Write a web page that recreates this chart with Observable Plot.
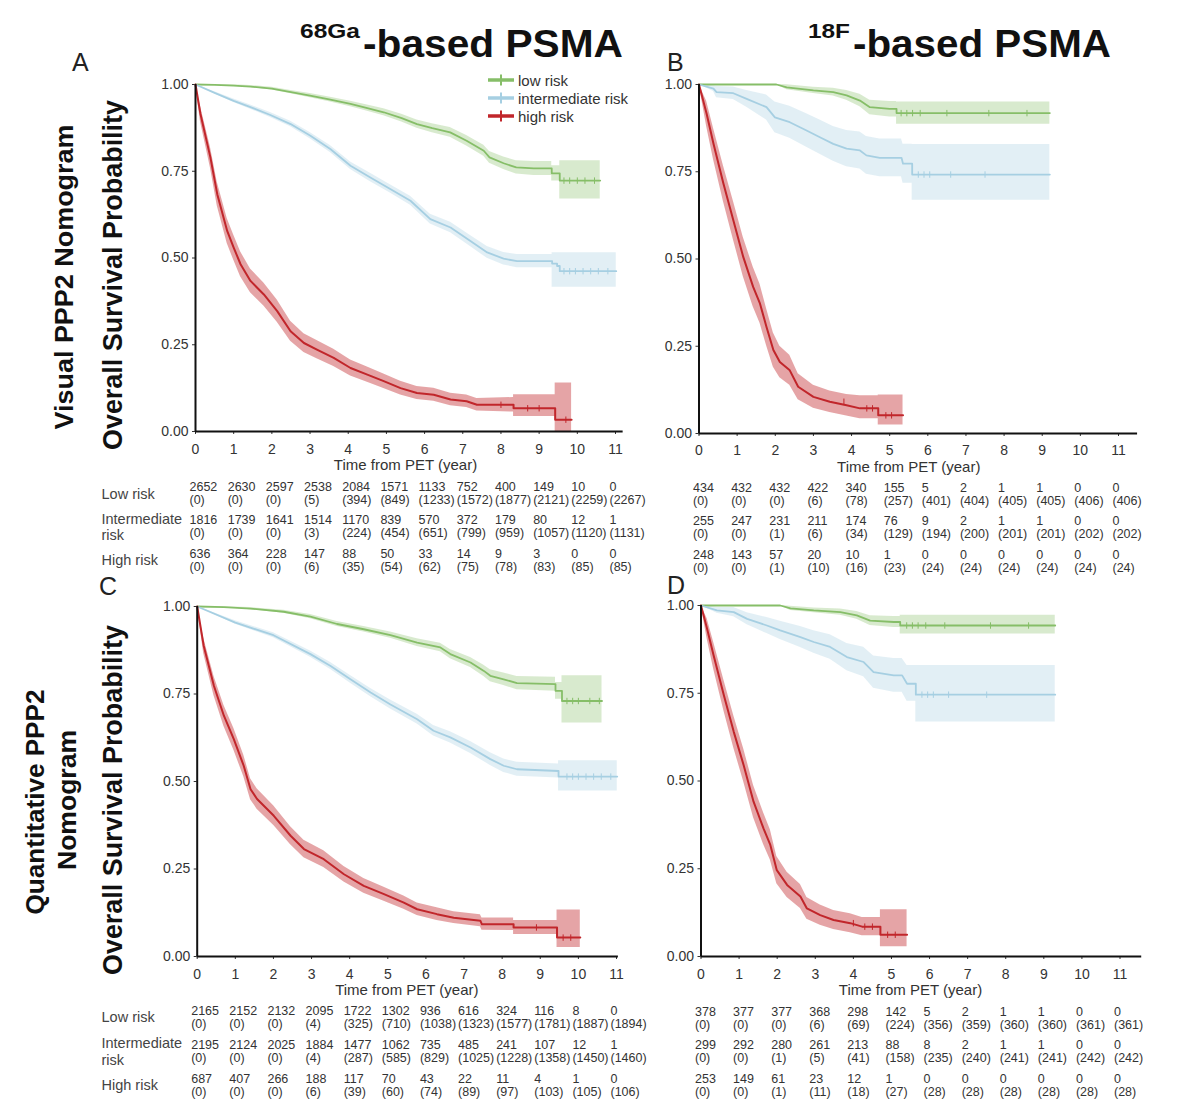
<!DOCTYPE html>
<html><head><meta charset="utf-8">
<script src="https://cdn.jsdelivr.net/npm/d3@7"></script>
<script src="https://cdn.jsdelivr.net/npm/@observablehq/plot@0.6"></script>
<style>
body{margin:0;background:#fff;}
#page{position:relative;width:1200px;height:1112px;overflow:hidden;font-family:"Liberation Sans",Arial,sans-serif;background:#fff;}
#page > svg{position:absolute;overflow:visible;}
</style></head><body><div id="page"></div>
<script>
// ---------- DATA ----------
const groups = ["low risk", "intermediate risk", "high risk"];
const lineColors = ["#86be68", "#a6cfe2", "#c1262b"];
const bandOpacity = [0.32, 0.33, 0.42];
const timePoints = [0, 1, 2, 3, 4, 5, 6, 7, 8, 9, 10, 11];
const riskRows = ["Low risk", "Intermediate\nrisk", "High risk"];

// curves: [time, survival, lower CI, upper CI]
const A_low = [[0,1,1,1],[0.5,0.999,0.998,1],[1,0.997,0.995,0.999],[1.44,0.994,0.991,0.997],[2,0.988,0.984,0.992],[2.5,0.978,0.973,0.983],[3,0.968,0.962,0.974],[3.5,0.957,0.95,0.964],[4.06,0.944,0.936,0.952],[4.5,0.932,0.923,0.941],[4.93,0.92,0.91,0.93],[5.4,0.903,0.892,0.914],[5.8,0.886,0.874,0.898],[6.2,0.874,0.861,0.887],[6.67,0.862,0.848,0.876],[7.1,0.838,0.823,0.853],[7.55,0.809,0.793,0.825],[7.7,0.79,0.773,0.807],[8.07,0.773,0.755,0.791],[8.4,0.761,0.742,0.78],[8.86,0.758,0.738,0.778],[9.33,0.758,0.738,0.778],[9.33,0.744,0.722,0.766],[9.54,0.744,0.722,0.766],[9.54,0.723,0.67,0.78],[10.6,0.723,0.67,0.78]];
const A_int = [[0,1,1,1],[0.5,0.976,0.973,0.979],[1,0.953,0.948,0.958],[1.44,0.935,0.929,0.941],[1.96,0.912,0.905,0.919],[2.49,0.886,0.878,0.894],[3,0.853,0.844,0.862],[3.53,0.814,0.804,0.824],[4.06,0.766,0.755,0.777],[4.58,0.732,0.72,0.744],[5.1,0.699,0.687,0.711],[5.63,0.665,0.652,0.678],[6.15,0.612,0.598,0.626],[6.68,0.588,0.573,0.603],[7.2,0.549,0.533,0.565],[7.64,0.516,0.499,0.533],[8.07,0.498,0.48,0.516],[8.42,0.491,0.472,0.51],[9.34,0.491,0.472,0.51],[9.34,0.484,0.416,0.515],[9.47,0.484,0.416,0.515],[9.47,0.477,0.416,0.515],[9.54,0.477,0.416,0.515],[9.54,0.462,0.416,0.515],[11.02,0.462,0.416,0.515]];
const A_high = [[0,1,1,1],[0.13,0.915,0.893,0.937],[0.39,0.79,0.76,0.82],[0.57,0.684,0.65,0.718],[0.83,0.578,0.542,0.614],[1,0.53,0.494,0.566],[1.18,0.482,0.446,0.518],[1.44,0.434,0.4,0.468],[1.79,0.395,0.362,0.428],[2.14,0.347,0.315,0.379],[2.49,0.289,0.26,0.318],[2.84,0.255,0.228,0.282],[3.18,0.236,0.21,0.262],[3.62,0.212,0.187,0.237],[4.06,0.183,0.16,0.206],[4.5,0.164,0.142,0.186],[4.93,0.145,0.124,0.166],[5.37,0.125,0.105,0.145],[5.8,0.111,0.092,0.13],[6.24,0.106,0.087,0.125],[6.68,0.092,0.074,0.11],[7.1,0.087,0.069,0.105],[7.37,0.077,0.059,0.095],[8.33,0.077,0.056,0.098],[8.33,0.067,0.043,0.106],[9.42,0.067,0.043,0.106],[9.42,0.034,0,0.14],[9.85,0.034,0,0.14]];

const B_low = [[0,1,1,1],[2.03,1,1,1],[2.3,0.992,0.985,0.999],[3,0.983,0.974,0.992],[3.52,0.978,0.967,0.989],[3.87,0.969,0.955,0.983],[4.22,0.954,0.936,0.972],[4.48,0.935,0.913,0.955],[5,0.93,0.907,0.951],[5.18,0.93,0.907,0.951],[5.18,0.918,0.886,0.95],[9.2,0.918,0.886,0.95]];
const B_int = [[0,1,1,1],[0.38,0.988,0.98,0.996],[0.46,0.978,0.962,0.994],[0.9,0.975,0.957,0.993],[1.25,0.959,0.935,0.983],[1.77,0.935,0.898,0.97],[1.99,0.906,0.862,0.95],[2.38,0.892,0.846,0.938],[2.82,0.868,0.82,0.916],[3.17,0.849,0.8,0.898],[3.52,0.83,0.78,0.88],[3.87,0.816,0.764,0.868],[4.22,0.811,0.758,0.864],[4.39,0.797,0.743,0.851],[4.74,0.79,0.736,0.844],[5.31,0.79,0.736,0.844],[5.35,0.773,0.717,0.829],[5.59,0.773,0.717,0.829],[5.59,0.742,0.668,0.828],[9.2,0.742,0.668,0.828]];
const B_high = [[0,1,1,1],[0.2,0.916,0.88,0.952],[0.38,0.83,0.785,0.875],[0.64,0.716,0.665,0.767],[0.9,0.611,0.556,0.666],[1.16,0.506,0.45,0.562],[1.42,0.42,0.363,0.477],[1.6,0.372,0.316,0.428],[1.77,0.305,0.252,0.358],[1.95,0.239,0.19,0.288],[2.12,0.205,0.16,0.25],[2.38,0.181,0.138,0.224],[2.6,0.134,0.097,0.171],[3,0.105,0.072,0.138],[3.43,0.091,0.06,0.122],[3.87,0.081,0.05,0.112],[4.22,0.072,0.042,0.108],[4.7,0.072,0.042,0.108],[4.7,0.052,0.024,0.11],[5.35,0.052,0.024,0.11]];

const C_low = [[0,1,1,1],[0.7,0.998,0.997,0.999],[1.4,0.994,0.991,0.997],[2.27,0.985,0.981,0.989],[2.97,0.971,0.965,0.977],[3.67,0.95,0.943,0.957],[4.37,0.935,0.927,0.943],[5.07,0.918,0.909,0.927],[5.77,0.897,0.886,0.908],[6.38,0.883,0.871,0.895],[6.64,0.864,0.851,0.877],[7.17,0.84,0.826,0.854],[7.52,0.816,0.8,0.832],[7.69,0.802,0.785,0.819],[8.04,0.792,0.774,0.81],[8.39,0.781,0.762,0.8],[9.4,0.778,0.758,0.798],[9.4,0.759,0.735,0.783],[9.57,0.759,0.735,0.783],[9.57,0.73,0.667,0.802],[10.62,0.73,0.667,0.802]];
const C_int = [[0,1,1,1],[1,0.954,0.949,0.959],[2,0.918,0.911,0.925],[2.97,0.864,0.855,0.873],[3.5,0.83,0.82,0.84],[4.02,0.792,0.781,0.803],[4.55,0.754,0.742,0.766],[5.07,0.72,0.707,0.733],[5.77,0.678,0.664,0.692],[6.2,0.645,0.63,0.66],[6.64,0.626,0.61,0.642],[7.17,0.597,0.58,0.614],[7.69,0.564,0.546,0.582],[8.04,0.545,0.526,0.564],[8.39,0.535,0.515,0.555],[9.48,0.53,0.51,0.55],[9.48,0.514,0.473,0.559],[11.02,0.514,0.473,0.559]];
const C_high = [[0,1,1,1],[0.17,0.888,0.866,0.91],[0.44,0.773,0.745,0.801],[0.7,0.688,0.658,0.718],[0.96,0.621,0.59,0.652],[1.22,0.545,0.514,0.576],[1.4,0.478,0.448,0.508],[1.57,0.45,0.421,0.479],[2.01,0.402,0.374,0.43],[2.45,0.345,0.319,0.371],[2.8,0.307,0.282,0.332],[3.32,0.278,0.254,0.302],[3.85,0.235,0.213,0.257],[4.37,0.202,0.181,0.223],[4.9,0.178,0.158,0.198],[5.42,0.154,0.135,0.173],[5.77,0.135,0.117,0.153],[6.29,0.121,0.103,0.139],[6.73,0.111,0.094,0.128],[7.43,0.102,0.085,0.119],[7.47,0.092,0.075,0.11],[8.3,0.092,0.074,0.11],[8.3,0.083,0.063,0.103],[9.44,0.083,0.063,0.103],[9.44,0.054,0.026,0.133],[10.05,0.054,0.026,0.133]];

const D_low = [[0,1,1,1],[2.08,1,1,1],[2.35,0.992,0.986,0.998],[2.96,0.986,0.979,0.993],[3.66,0.981,0.972,0.99],[4.09,0.972,0.961,0.983],[4.44,0.957,0.943,0.971],[5.06,0.953,0.937,0.969],[5.23,0.953,0.937,0.969],[5.23,0.943,0.919,0.972],[9.3,0.943,0.919,0.972]];
const D_int = [[0,1,1,1],[0.42,0.986,0.978,0.994],[0.86,0.981,0.968,0.994],[1.21,0.962,0.945,0.979],[1.73,0.943,0.92,0.966],[2.08,0.929,0.903,0.955],[2.61,0.91,0.88,0.94],[2.96,0.896,0.864,0.928],[3.39,0.882,0.847,0.917],[3.83,0.853,0.814,0.892],[4.27,0.839,0.797,0.881],[4.53,0.81,0.764,0.856],[5.06,0.801,0.753,0.849],[5.28,0.801,0.753,0.849],[5.41,0.777,0.727,0.829],[5.64,0.777,0.727,0.829],[5.64,0.746,0.668,0.829],[9.3,0.746,0.668,0.829]];
const D_high = [[0,1,1,1],[0.16,0.934,0.905,0.963],[0.33,0.858,0.82,0.896],[0.6,0.744,0.7,0.788],[0.86,0.64,0.594,0.686],[1.12,0.545,0.498,0.592],[1.38,0.441,0.395,0.487],[1.64,0.365,0.32,0.41],[1.82,0.318,0.275,0.361],[1.99,0.246,0.207,0.285],[2.26,0.204,0.168,0.24],[2.61,0.171,0.137,0.205],[2.78,0.137,0.106,0.168],[3.13,0.118,0.089,0.147],[3.48,0.104,0.077,0.131],[3.92,0.095,0.068,0.122],[4.23,0.085,0.059,0.111],[4.71,0.085,0.059,0.111],[4.71,0.062,0.028,0.133],[5.41,0.062,0.028,0.133]];

// censoring tick times
const A_cens = [[9.65,9.8,10.0,10.2,10.45],[9.65,9.8,9.95,10.15,10.35,10.55,10.8],[8.0,8.7,9.0,9.7]];
const B_cens = [[5.3,5.45,5.6,5.8,6.5,7.6,8.6],[5.75,5.9,6.05,6.6,7.5],[3.8,4.4,4.55,4.9,5.05]];
const C_cens = [[9.7,9.85,10.0,10.3,10.55],[9.7,9.85,10.0,10.2,10.4,10.6,10.85],[8.9,9.6,9.8]];
const D_cens = [[5.4,5.55,5.7,5.9,6.4,7.6,8.6],[5.8,5.95,6.1,6.5,7.5],[4.0,4.3,4.5,4.9,5.1]];

// number at risk and (cumulative censored)
const A_lowN = [2652,2630,2597,2538,2084,1571,1133,752,400,149,10,0];
const A_lowC = [0,0,0,5,394,849,1233,1572,1877,2121,2259,2267];
const A_intN = [1816,1739,1641,1514,1170,839,570,372,179,80,12,1];
const A_intC = [0,0,0,3,224,454,651,799,959,1057,1120,1131];
const A_highN = [636,364,228,147,88,50,33,14,9,3,0,0];
const A_highC = [0,0,0,6,35,54,62,75,78,83,85,85];

const B_lowN = [434,432,432,422,340,155,5,2,1,1,0,0];
const B_lowC = [0,0,0,6,78,257,401,404,405,405,406,406];
const B_intN = [255,247,231,211,174,76,9,2,1,1,0,0];
const B_intC = [0,0,1,6,34,129,194,200,201,201,202,202];
const B_highN = [248,143,57,20,10,1,0,0,0,0,0,0];
const B_highC = [0,0,1,10,16,23,24,24,24,24,24,24];

const C_lowN = [2165,2152,2132,2095,1722,1302,936,616,324,116,8,0];
const C_lowC = [0,0,0,4,325,710,1038,1323,1577,1781,1887,1894];
const C_intN = [2195,2124,2025,1884,1477,1062,735,485,241,107,12,1];
const C_intC = [0,0,0,4,287,585,829,1025,1228,1358,1450,1460];
const C_highN = [687,407,266,188,117,70,43,22,11,4,1,0];
const C_highC = [0,0,0,6,39,60,74,89,97,103,105,106];

const D_lowN = [378,377,377,368,298,142,5,2,1,1,0,0];
const D_lowC = [0,0,0,6,69,224,356,359,360,360,361,361];
const D_intN = [299,292,280,261,213,88,8,2,1,1,0,0];
const D_intC = [0,0,1,5,41,158,235,240,241,241,242,242];
const D_highN = [253,149,61,23,12,1,0,0,0,0,0,0];
const D_highC = [0,0,1,11,18,27,28,28,28,28,28,28];

const yTicks = [0, 0.25, 0.5, 0.75, 1];
const xLabel = "Time from PET (year)";

// ---------- DRAWING ----------
const page = document.getElementById("page");
const FONT = '"Liberation Sans", Arial, sans-serif';

const tickSymbol = {
  draw(ctx, size) {
    const r = Math.sqrt(size / Math.PI);
    ctx.moveTo(0, -r); ctx.lineTo(0, r);
  }
};

function stepAt(curve, t) {
  let s = curve[0][1];
  for (const p of curve) if (p[0] <= t) s = p[1];
  return s;
}

function place(el, left, top) {
  el.style.left = left + "px";
  el.style.top = top + "px";
  page.appendChild(el);
}

function panel(cfg) {
  const w = cfg.w, h = cfg.h;
  const marks = [];
  cfg.curves.forEach((c, i) => {
    const rows = c.map(([t, s, lo, hi]) => ({t, s, lo, hi}));
    marks.push(Plot.areaY(rows, {x: "t", y1: "lo", y2: "hi", fill: lineColors[i], fillOpacity: bandOpacity[i]}));
  });
  cfg.curves.forEach((c, i) => {
    const rows = c.map(([t, s]) => ({t, s}));
    marks.push(Plot.line(rows, {x: "t", y: "s", stroke: lineColors[i], strokeWidth: i === 2 ? 2 : 1.8}));
    const cens = cfg.censors[i].map(t => ({t, s: stepAt(c, t)}));
    marks.push(Plot.dot(cens, {x: "t", y: "s", symbol: tickSymbol, r: 3.2, stroke: lineColors[i], fill: "none", strokeWidth: 1}));
  });
  marks.push(Plot.ruleX([0], {y1: 0, y2: 1, stroke: "#111", strokeWidth: 2}));
  marks.push(Plot.ruleY([0], {x1: 0, x2: cfg.axisEnd, stroke: "#111", strokeWidth: 2}));
  marks.push(Plot.text([xLabel], {x: () => 5.5, frameAnchor: "bottom", dy: cfg.labelDy, text: d => d, fontSize: 15, fill: "#333"}));

  const svg = Plot.plot({
    width: w, height: h,
    marginLeft: cfg.x0 - cfg.left,
    marginRight: w - (cfg.x11 - cfg.left),
    marginTop: cfg.yTop - cfg.top,
    marginBottom: h - (cfg.yBot - cfg.top),
    x: {domain: [0, 11], ticks: timePoints, tickFormat: d => String(d), tickSize: 3, tickPadding: cfg.tickPad, label: null},
    y: {domain: [0, 1], ticks: yTicks, tickFormat: d3.format(".2f"), tickSize: 3, tickPadding: 4, label: null},
    style: {background: "transparent", fontFamily: FONT, fontSize: "14px", color: "#333", overflow: "visible"},
    marks
  });
  place(svg, cfg.left, cfg.top);
}

function riskTable(cfg) {
  const cells = [];
  cfg.risk.forEach(([N, C], i) => N.forEach((n, j) => cells.push({t: timePoints[j], row: i, n, c: C[j]})));
  const w = cfg.w, h = cfg.h;
  const marks = [
    Plot.text(cells, {x: "t", y: "row", text: d => String(d.n), dy: -6.5, dx: -6, textAnchor: "start", fontSize: 12.5, fill: "#333"}),
    Plot.text(cells, {x: "t", y: "row", text: d => `(${d.c})`, dy: 6.5, dx: -6, textAnchor: "start", fontSize: 12.5, fill: "#333"})
  ];
  if (cfg.labels) {
    marks.push(Plot.text(riskRows, {y: (d, i) => i, text: d => d, frameAnchor: "left", textAnchor: "start", dx: -(cfg.x0 - cfg.labelX), fontSize: 14.5, fill: "#444", lineHeight: 1.15}));
  }
  const svg = Plot.plot({
    width: w, height: h,
    marginLeft: cfg.x0 - cfg.left,
    marginRight: w - (cfg.x11 - cfg.left),
    marginTop: 0, marginBottom: 0,
    x: {domain: [0, 11], axis: null},
    y: {type: "linear", domain: [0, 2], range: [cfg.rowY[0] - cfg.top, cfg.rowY[2] - cfg.top], axis: null},
    style: {background: "transparent", fontFamily: FONT, overflow: "visible"},
    marks
  });
  place(svg, cfg.left, cfg.top);
}

// panels
panel({left: 100, top: 60, w: 545, h: 425, x0: 195, x11: 615, yTop: 84, yBot: 431, axisEnd: 11.2, labelDy: 38, tickPad: 10,
  curves: [A_low, A_int, A_high], censors: A_cens});
panel({left: 600, top: 60, w: 560, h: 425, x0: 698.5, x11: 1118, yTop: 84, yBot: 433, axisEnd: 11.5, labelDy: 38, tickPad: 9,
  curves: [B_low, B_int, B_high], censors: B_cens});
panel({left: 100, top: 585, w: 545, h: 420, x0: 196.7, x11: 616, yTop: 606, yBot: 956, axisEnd: 11.05, labelDy: 38, tickPad: 10,
  curves: [C_low, C_int, C_high], censors: C_cens});
panel({left: 600, top: 585, w: 560, h: 420, x0: 700.5, x11: 1119.5, yTop: 605, yBot: 956, axisEnd: 11.57, labelDy: 38, tickPad: 10,
  curves: [D_low, D_int, D_high], censors: D_cens});

// risk tables
riskTable({left: 90, top: 472, w: 570, h: 105, x0: 195, x11: 615, labels: true, labelX: 101, rowY: [493, 526, 559.5],
  risk: [[A_lowN, A_lowC], [A_intN, A_intC], [A_highN, A_highC]]});
riskTable({left: 680, top: 472, w: 480, h: 105, x0: 698.5, x11: 1118, labels: false, rowY: [493.5, 527, 560.5],
  risk: [[B_lowN, B_lowC], [B_intN, B_intC], [B_highN, B_highC]]});
riskTable({left: 90, top: 996, w: 570, h: 110, x0: 196.7, x11: 616, labels: true, labelX: 101, rowY: [1016.5, 1050.5, 1084.5],
  risk: [[C_lowN, C_lowC], [C_intN, C_intC], [C_highN, C_highC]]});
riskTable({left: 680, top: 996, w: 480, h: 110, x0: 700.5, x11: 1119.5, labels: false, rowY: [1017.5, 1051, 1084.5],
  risk: [[D_lowN, D_lowC], [D_intN, D_intC], [D_highN, D_highC]]});

// ---------- titles, panel letters, legend ----------
const ov = d3.create("svg").attr("width", 1200).attr("height", 1112)
  .style("left", "0px").style("top", "0px").style("position", "absolute").style("pointer-events", "none")
  .style("font-family", FONT);

function title(sup, main, x, supLen, mainLen) {
  const g = ov.append("g");
  g.append("text").attr("x", x).attr("y", 38).attr("font-size", 21).attr("font-weight", "bold").attr("fill", "#111")
    .attr("textLength", supLen).attr("lengthAdjust", "spacingAndGlyphs").text(sup);
  g.append("text").attr("x", x + supLen + 3).attr("y", 57).attr("font-size", 38).attr("font-weight", "bold").attr("fill", "#111")
    .attr("textLength", mainLen).attr("lengthAdjust", "spacingAndGlyphs").text(main);
}
title("68Ga", "-based PSMA", 300, 60, 260);
title("18F", "-based PSMA", 808, 42, 258);

[["A", 72, 71], ["B", 667, 71], ["C", 99, 595], ["D", 667, 594]].forEach(([t, x, y]) => {
  ov.append("text").attr("x", x).attr("y", y).attr("font-size", 25).attr("fill", "#222").text(t);
});

function vlabel(text, cx, cy, len, size) {
  ov.append("text").attr("transform", `translate(${cx},${cy}) rotate(-90)`)
    .attr("text-anchor", "middle").attr("dominant-baseline", "central")
    .attr("font-size", size).attr("font-weight", "bold").attr("fill", "#111")
    .attr("textLength", len).attr("lengthAdjust", "spacingAndGlyphs").text(text);
}
vlabel("Visual PPP2 Nomogram", 64, 277, 305, 26);
vlabel("Overall Survival Probability", 113, 275, 350, 27);
vlabel("Quantitative PPP2", 35, 802, 225, 26);
vlabel("Nomogram", 67, 800, 140, 26);
vlabel("Overall Survival Probability", 113, 800, 350, 27);

// legend (panel A)
groups.forEach((g, i) => {
  const y = 80 + i * 18;
  ov.append("line").attr("x1", 488).attr("x2", 514).attr("y1", y).attr("y2", y)
    .attr("stroke", lineColors[i]).attr("stroke-width", 3.5);
  ov.append("line").attr("x1", 501).attr("x2", 501).attr("y1", y - 5.5).attr("y2", y + 5.5)
    .attr("stroke", lineColors[i]).attr("stroke-width", 2);
  ov.append("text").attr("x", 518).attr("y", y).attr("dominant-baseline", "central")
    .attr("font-size", 15).attr("fill", "#333").text(g);
});

page.appendChild(ov.node());
</script></body></html>
